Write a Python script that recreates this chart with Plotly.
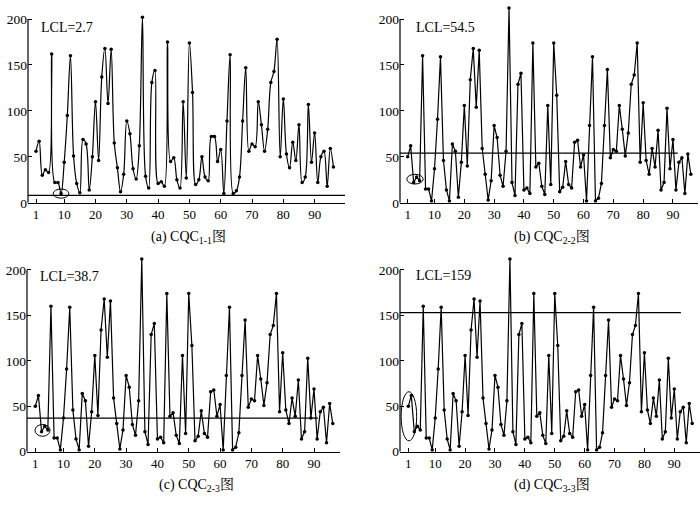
import plotly.graph_objects as go

# sample number on the x axis
point_no = list(range(1, 97))

# (a) CQC 1-1 series
cqc_11 = [56, 67, 30, 36, 33, 162, 22, 22, 10, 44,
          95, 160, 51, 21, 11, 69, 64, 14, 50, 110,
          46, 137, 168, 108, 167, 65, 38, 12, 31, 89,
          75, 37, 26, 62, 202, 29, 16, 131, 144, 21,
          23, 18, 175, 45, 49, 25, 16, 110, 27, 174,
          120, 20, 25, 50, 28, 24, 72, 72, 45, 58,
          10, 89, 161, 10, 13, 28, 89, 147, 56, 64,
          61, 110, 85, 56, 80, 131, 143, 178, 50, 113,
          53, 38, 66, 46, 85, 22, 28, 107, 44, 76,
          22, 50, 56, 18, 59, 39]

# (b) (c) (d) plot the same series
cqc_22 = [50, 62, 22, 28, 24, 160, 15, 15, 2, 37,
          91, 159, 46, 14, 2, 64, 56, 6, 44, 106,
          40, 134, 168, 104, 166, 59, 31, 3, 24, 84,
          71, 30, 18, 56, 212, 22, 8, 129, 141, 14,
          16, 10, 174, 39, 43, 18, 9, 106, 20, 174,
          117, 12, 17, 45, 20, 16, 66, 68, 39, 52,
          2, 84, 159, 2, 5, 21, 84, 145, 49, 58,
          56, 106, 80, 51, 76, 129, 139, 174, 44, 109,
          46, 31, 59, 39, 79, 14, 22, 103, 37, 69,
          14, 44, 49, 10, 53, 31]

lcl_labels = ['LCL=2.7', 'LCL=54.5', 'LCL=38.7', 'LCL=159']
lcl_lines = [8, 54, 37, 153]   # height the limit line is drawn at
captions = ['(a) CQC<sub>1-1</sub>图', '(b) CQC<sub>2-2</sub>图',
            '(c) CQC<sub>2-3</sub>图', '(d) CQC<sub>3-3</sub>图']
circled = [(9, 9), (3, 5), (3, 5), (1, 3)]   # first / last point inside the ellipse
tick_x = [1, 10, 20, 30, 40, 50, 60, 70, 80, 90]
tick_y = [0, 50, 100, 150, 200]

FONT = 'Liberation Serif, Times New Roman, Noto Serif CJK SC, Noto Sans CJK SC, serif'

panels = [
    dict(series=cqc_11, shape='spline', xdom=[28 / 700, 345 / 700], ydom=[0.592, 1.0],
         xr=[-1.56, 99.7], yr=[0, 220.7], lcl_end=99.7, pad=(2.5, 2.5, 5, 5),
         lab=(39 / 700, 0.9446), cap=(0.2696, 0.5228)),
    dict(series=cqc_22, shape='linear', xdom=[400 / 700, 698 / 700], ydom=[0.592, 1.0],
         xr=[-1.58, 98.4], yr=[0, 220.7], lcl_end=91.6, pad=(2.3, 1.2, 1.6, 3),
         lab=(414 / 700, 0.9446), cap=(0.7886, 0.5228)),
    dict(series=cqc_22, shape='linear', xdom=[27 / 700, 340 / 700], ydom=[0.0911, 0.495],
         xr=[-1.65, 98.3], yr=[0, 220.9], lcl_end=91.3, pad=(2.1, 0.7, 5, 2),
         lab=(38 / 700, 0.4436), cap=(0.28, 0.0238)),
    dict(series=cqc_22, shape='linear', xdom=[400 / 700, 1.0], ydom=[0.0911, 0.495],
         xr=[-1.78, 98.6], yr=[0, 220.9], lcl_end=92.2, pad=(2.4, 0.8, 10, 4),
         lab=(414 / 700, 0.4455), cap=(0.7886, 0.0238)),
]

fig = go.Figure()
shapes = []
annotations = []

for i, p in enumerate(panels):
    n = '' if i == 0 else str(i + 1)
    xa, ya = 'x' + n, 'y' + n

    fig.add_trace(go.Scatter(
        x=point_no, y=p['series'], mode='lines+markers', xaxis=xa, yaxis=ya,
        line=dict(color='black', width=1.2, shape=p['shape'], smoothing=1.0),
        marker=dict(color='black', size=3.5), showlegend=False, cliponaxis=True))

    # control limit line
    fig.add_trace(go.Scatter(
        x=[p['xr'][0], p['lcl_end']], y=[lcl_lines[i], lcl_lines[i]], mode='lines',
        xaxis=xa, yaxis=ya, line=dict(color='black', width=1.2), showlegend=False))

    fig.layout['xaxis' + n] = dict(
        domain=p['xdom'], range=p['xr'], anchor=ya, tickvals=tick_x,
        showline=True, linecolor='black', linewidth=1.2, ticks='inside', ticklen=4,
        tickcolor='black', showgrid=False, zeroline=False,
        tickfont=dict(family=FONT, size=13, color='black'))
    fig.layout['yaxis' + n] = dict(
        domain=p['ydom'], range=p['yr'], anchor=xa, tickvals=tick_y,
        showline=False, ticks='inside', ticklen=4, tickcolor='black',
        showgrid=False, zeroline=False,
        tickfont=dict(family=FONT, size=13.5, color='black'))

    # y axis line stops at 200
    shapes.append(dict(type='line', xref=xa + ' domain', yref=ya, x0=0, x1=0,
                       y0=tick_y[0], y1=tick_y[-1], line=dict(color='black', width=1.2)))

    # ellipse round the flagged points
    a, b = circled[i]
    vals = p['series'][a - 1:b]
    pl, pr, pb, pt = p['pad']
    shapes.append(dict(type='circle', xref=xa, yref=ya,
                       x0=point_no[a - 1] - pl, x1=point_no[b - 1] + pr,
                       y0=min(vals) - pb, y1=max(vals) + pt,
                       line=dict(color='black', width=1)))

    annotations.append(dict(text=lcl_labels[i], xref='paper', yref='paper',
                            x=p['lab'][0], y=p['lab'][1], xanchor='left', yanchor='middle',
                            showarrow=False, font=dict(family=FONT, size=14, color='black')))
    annotations.append(dict(text=captions[i], xref='paper', yref='paper',
                            x=p['cap'][0], y=p['cap'][1], xanchor='center', yanchor='middle',
                            showarrow=False, font=dict(family=FONT, size=14, color='black')))

fig.update_layout(
    width=700, height=505, margin=dict(l=0, r=0, t=0, b=0),
    paper_bgcolor='white', plot_bgcolor='white',
    shapes=shapes, annotations=annotations)

# drop the default page margin so the figure sits at the window corner
fig.write_html("out.html", config={'displayModeBar': False},
               post_script="document.body.style.margin='0';")
